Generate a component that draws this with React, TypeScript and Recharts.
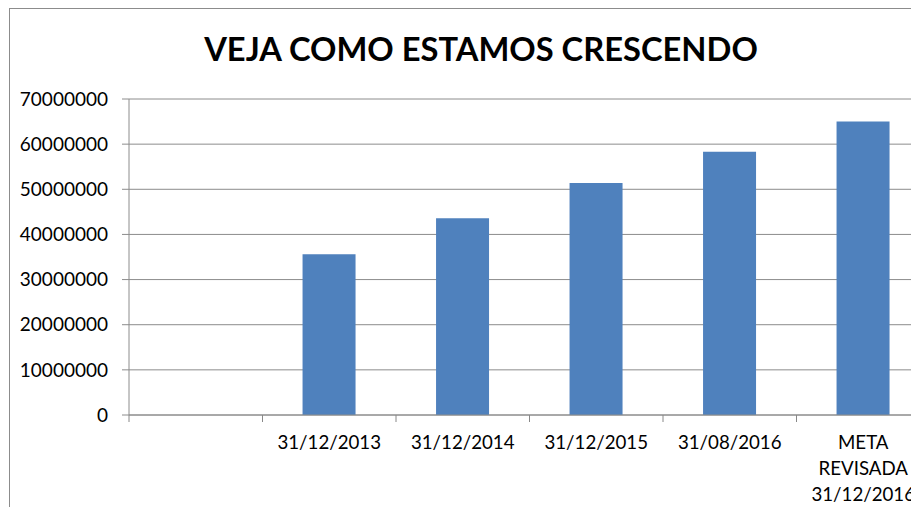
import { BarChart, Bar, XAxis, YAxis, CartesianGrid } from "recharts"

// chart values
const categories = ["", "31/12/2013", "31/12/2014", "31/12/2015", "31/08/2016", "META REVISADA 31/12/2016"]
const values = [null, 35600000, 43600000, 51400000, 58300000, 65000000]
const yTicks = [0, 10000000, 20000000, 30000000, 40000000, 50000000, 60000000, 70000000]

const data = categories.map((c, i) => ({ category: c, value: values[i] }))

const CHART_W = 930
const CHART_H = 515
const Y_AXIS_W = 129
const FONT = "Lato, 'Open Sans', sans-serif"
const band = (CHART_W - Y_AXIS_W) / categories.length

function XTick(props: any) {
  const { x, y, payload, index } = props
  const label: string = payload.value || ""
  const lines = label.includes(" ") ? label.split(" ") : [label]
  return (
    <g>
      <line x1={x - band / 2} x2={x - band / 2} y1={y - 8} y2={y - 1} stroke="#888" />
      {index === categories.length - 1 && (
        <line x1={x + band / 2} x2={x + band / 2} y1={y - 8} y2={y - 1} stroke="#888" />
      )}
      <text x={x} y={y + 26} textAnchor="middle" fill="#000" fontSize={18.7} fontFamily={FONT}>
        {lines.map((l, i) => (
          <tspan key={i} x={x} dy={i === 0 ? 0 : 26}>
            {l}
          </tspan>
        ))}
      </text>
    </g>
  )
}

export default function App() {
  return (
    <div style={{ position: "relative", margin: -8, width: 919, height: 515, overflow: "hidden", background: "#fff" }}>
      <div
        style={{
          position: "absolute",
          left: 9,
          top: 8,
          width: 1000,
          height: 1000,
          border: "1px solid #8c8c8c",
        }}
      />
      <div
        style={{
          position: "absolute",
          left: 0,
          top: 29,
          width: 962,
          textAlign: "center",
          fontFamily: FONT,
          fontWeight: 700,
          fontSize: 32.7,
          color: "#000",
        }}
      >
        VEJA COMO ESTAMOS CRESCENDO
      </div>
      <div style={{ position: "absolute", left: 0, top: 0 }}>
        <BarChart
          width={CHART_W}
          height={CHART_H}
          data={data}
          margin={{ top: 99, right: 0, left: 0, bottom: 0 }}
          barCategoryGap="30%"
        >
          <CartesianGrid vertical={false} stroke="#8c8c8c" strokeWidth={1} />
          <XAxis
            dataKey="category"
            height={100}
            interval={0}
            tickLine={false}
            axisLine={{ stroke: "#8c8c8c" }}
            tick={<XTick />}
          />
          <YAxis
            width={Y_AXIS_W}
            domain={[0, 70000000]}
            ticks={yTicks}
            interval={0}
            tickSize={7}
            tickMargin={14}
            axisLine={{ stroke: "#8c8c8c" }}
            tickLine={{ stroke: "#8c8c8c" }}
            tick={{ fill: "#000", fontSize: 19, fontFamily: FONT }}
          />
          <Bar dataKey="value" fill="#4f81bd" isAnimationActive={false} />
        </BarChart>
      </div>
    </div>
  )
}
